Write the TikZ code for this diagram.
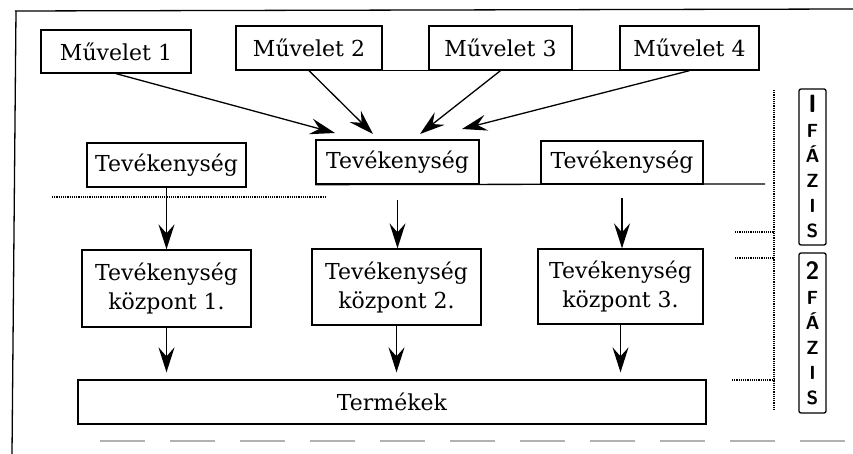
\documentclass[tikz,border=0pt]{standalone}
\usepackage{fontspec}
\newfontfamily\boxfont{DejaVu Serif}
\usetikzlibrary{arrows.meta}
\tikzset{
  box/.style={draw, line width=1.3pt, inner sep=0pt, align=center,
    font=\boxfont\fontsize{22}{29}\selectfont},
  phase/.style={draw, line width=1.3pt, inner sep=0pt, rounded corners=2pt,
    minimum width=27pt, align=center,
    font=\sffamily\bfseries\fontsize{19}{25}\selectfont},
  arr/.style={-{Stealth[length=25pt,width=16pt,inset=9pt]}, line width=1.3pt},
  dots/.style={line width=1.4pt, dash pattern=on 1.2pt off 1pt},
}
\begin{document}
\begin{tikzpicture}[x=1pt, y=-1pt]
  \useasboundingbox (0,0) rectangle (853,454);

  % Frame
  \draw[line width=1.3pt] (15,11) -- (853,9);
  \draw[line width=1.3pt] (16,11) -- (12,454);
  \draw[gray!60, line width=2.5pt, dash pattern=on 45pt off 25pt] (100,441) -- (853,441);

  % Operations
  \node[box, minimum width=150pt, minimum height=43pt] (m1) at (116,51.5) {Művelet 1};
  \node[box, minimum width=146pt, minimum height=44pt] (m2) at (309,48) {Művelet 2};
  \node[box, minimum width=143pt, minimum height=44pt] (m3) at (500.5,48) {Művelet 3};
  \node[box, minimum width=139pt, minimum height=44pt] (m4) at (689.5,48) {Művelet 4};
  \draw[line width=1.3pt] (m2.south west) -- (m4.south east);

  % Activities
  \node[box, minimum width=159pt, minimum height=44pt] (t1) at (166.5,165) {Tevékenység};
  \node[box, minimum width=163pt, minimum height=44pt] (t2) at (397.5,162) {Tevékenység};
  \node[box, minimum width=162pt, minimum height=43pt] (t3) at (622,162.5) {Tevékenység};
  \coordinate (tend) at (765,184);
  \draw[line width=1.3pt] (t2.south west) -- (tend);
  \draw[dots] (52,197) -- (327,197);

  % Arrows into the middle activity
  \coordinate (a1) at (335,133);
  \coordinate (a2) at (373,134);
  \coordinate (a3) at (420,134);
  \coordinate (a4) at (462,129);
  \draw[arr] (m1.south) -- (a1);
  \draw[arr] (m2.south) -- (a2);
  \draw[arr] (m3.south) -- (a3);
  \draw[arr] (m4.south) -- (a4);

  % Activity centres
  \node[box, minimum width=169pt, minimum height=77pt] (k1) at (166.5,288.5) {Tevékenység\\központ 1.};
  \node[box, minimum width=169pt, minimum height=76pt] (k2) at (396.5,287) {Tevékenység\\központ 2.};
  \node[box, minimum width=165pt, minimum height=75pt] (k3) at (620.5,286.5) {Tevékenység\\központ 3.};
  \draw[arr] (t1.south) -- (t1.south |- k1.north);
  \draw[arr, shorten <=15pt] (t2.south) -- (t2.south |- k2.north);
  \draw[arr, shorten <=13pt] (t3.south) -- (t3.south |- k3.north);

  % Products
  \node[box, minimum width=628pt, minimum height=44pt] (tm) at (392,402) {Termékek};
  \draw[arr, shorten >=7pt] (k1.south) -- (k1.south |- tm.north);
  \draw[arr, shorten >=7pt] (k2.south) -- (k2.south |- tm.north);
  \draw[arr, shorten >=7pt] (k3.south) -- (k3.south |- tm.north);

  % Phases
  \coordinate (vtop) at (774,90);
  \coordinate (vbot) at (774,410);
  \draw[dots] (vtop) -- (vbot);
  \draw[dots] (735,232) -- (774,232);
  \draw[dots] (735,258) -- (774,258);
  \draw[dots] (732,380) -- (774,380);
  \node[phase, minimum height=156pt] (f1) at (812.5,167) {{\fontsize{25}{25}\selectfont I}\\F\\Á\\Z\\I\\S};
  \node[phase, minimum height=160pt] (f2) at (812.5,333) {{\fontsize{25}{25}\selectfont 2}\\F\\Á\\Z\\I\\S};
\end{tikzpicture}
\end{document}
